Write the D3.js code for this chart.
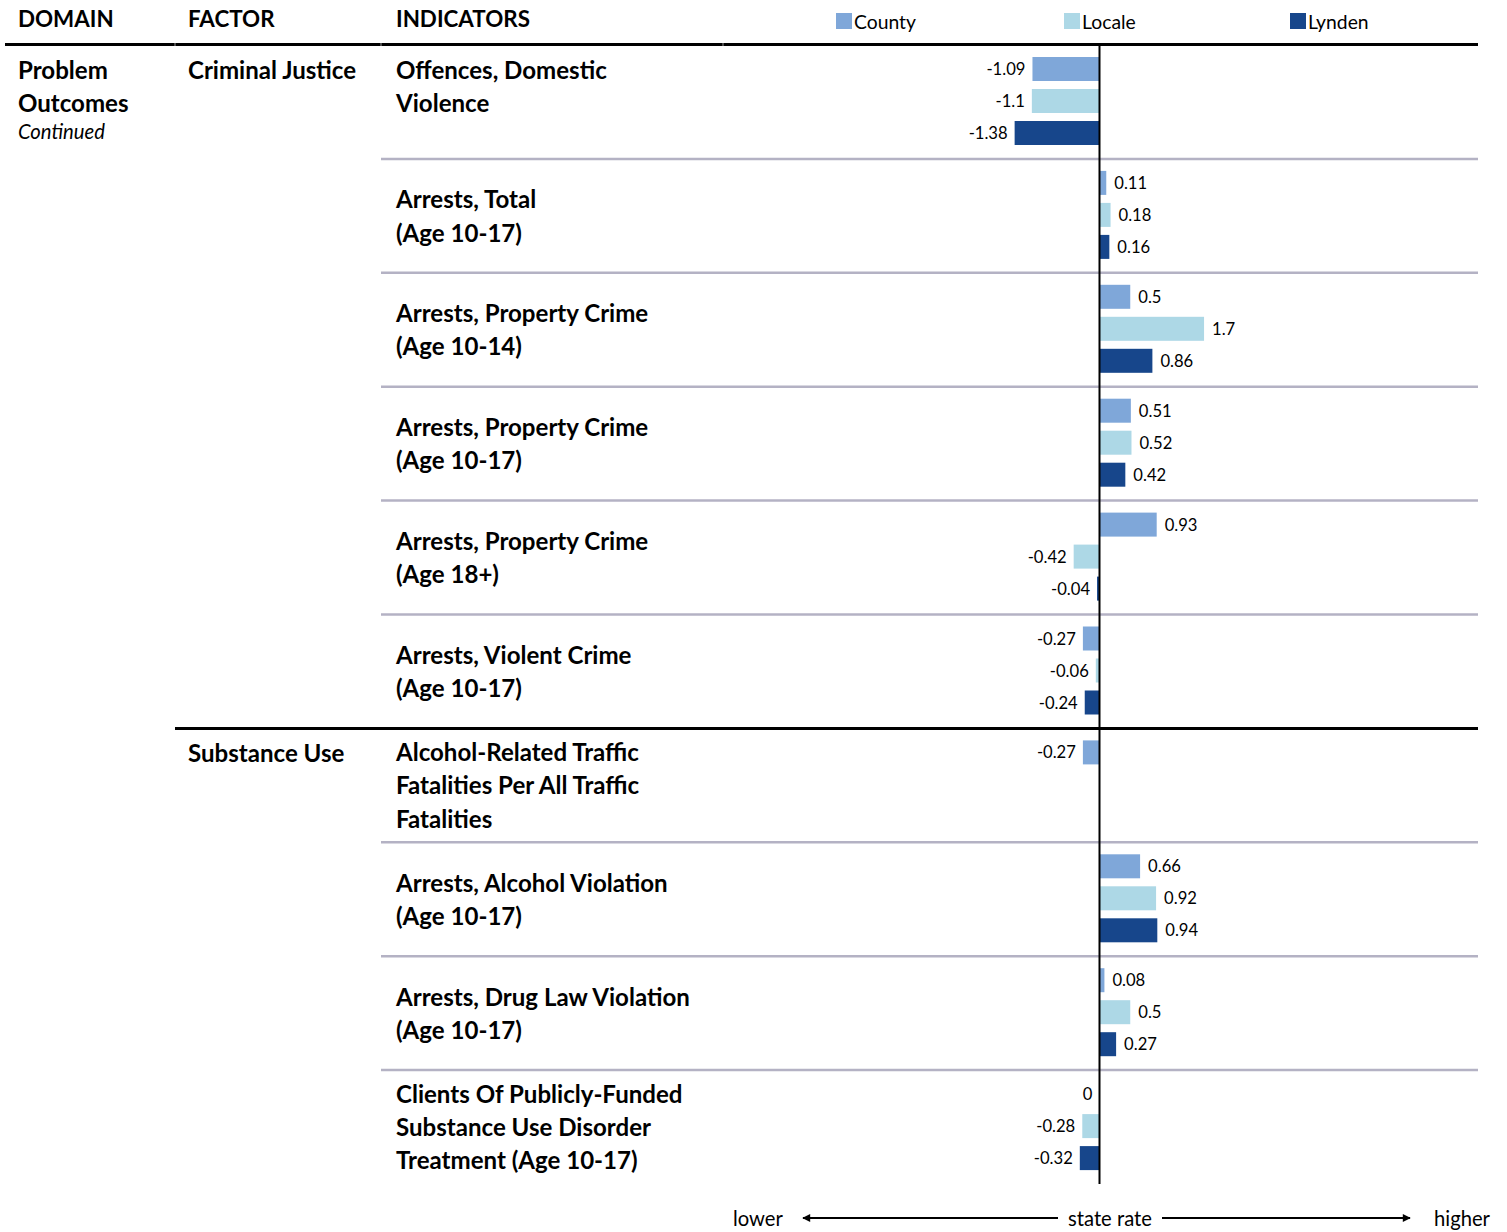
<!DOCTYPE html>
<html>
<head>
<meta charset="utf-8">
<script src="https://cdn.jsdelivr.net/npm/d3@7/dist/d3.min.js"></script>
<style>
  html, body { margin: 0; padding: 0; background: #fff; }
  svg { display: block; }
  text { font-family: Lato, "Open Sans", "DejaVu Sans", sans-serif; fill: #000; }
</style>
</head>
<body>
<svg id="chart" width="1507" height="1232"></svg>
<script>
// ---------------- DATA ----------------
const series = ["County", "Locale", "Lynden"];
const headers = ["DOMAIN", "FACTOR", "INDICATORS"];
const domainLines = ["Problem", "Outcomes"];
const domainNote = "Continued";
const factors = ["Criminal Justice", "Substance Use"];
const factorStartRow = [0, 6];
const indicators = [
  ["Offences, Domestic", "Violence"],
  ["Arrests, Total", "(Age 10-17)"],
  ["Arrests, Property Crime", "(Age 10-14)"],
  ["Arrests, Property Crime", "(Age 10-17)"],
  ["Arrests, Property Crime", "(Age 18+)"],
  ["Arrests, Violent Crime", "(Age 10-17)"],
  ["Alcohol-Related Traffic", "Fatalities Per All Traffic", "Fatalities"],
  ["Arrests, Alcohol Violation", "(Age 10-17)"],
  ["Arrests, Drug Law Violation", "(Age 10-17)"],
  ["Clients Of Publicly-Funded", "Substance Use Disorder", "Treatment (Age 10-17)"]
];
const countyValues = [-1.09, 0.11, 0.5, 0.51, 0.93, -0.27, -0.27, 0.66, 0.08, 0];
const localeValues = [-1.1, 0.18, 1.7, 0.52, -0.42, -0.06, null, 0.92, 0.5, -0.28];
const lyndenValues = [-1.38, 0.16, 0.86, 0.42, -0.04, -0.24, null, 0.94, 0.27, -0.32];
const axisLabels = ["lower", "state rate", "higher"];

// ---------------- STYLE / LAYOUT ----------------
const colors = { County: "#7fa7d9", Locale: "#add8e6", Lynden: "#17468b" };
const svg = d3.select("#chart");
const valuesBySeries = { County: countyValues, Locale: localeValues, Lynden: lyndenValues };

const tableTop = 45, rowH = 113.9, nRows = indicators.length;
const rowTop = i => tableTop + i * rowH;
const zeroX = 1099.5, pxPerUnit = 61.5;

function fitSize(str, weight, style, target) {
  const t = svg.append("text").attr("font-size", 100).attr("font-weight", weight)
    .attr("font-style", style).text(str);
  const w = t.node().getComputedTextLength();
  t.remove();
  return 100 * target / w;
}
const fsHeader = fitSize("INDICATORS", "bold", "normal", 134);
const fsBold = fitSize("Arrests, Drug Law Violation", "bold", "normal", 294);
const fsNum = fitSize("-1.09", "normal", "normal", 39);
const fsLegend = fitSize("County", "normal", "normal", 62);
const fsNote = fitSize("Continued", "normal", "italic", 87);
const fsAxis = fitSize("state rate", "normal", "normal", 84);

const x = d3.scaleLinear().domain([-1.5, 1.8]).range([zeroX - 1.5 * pxPerUnit, zeroX + 1.8 * pxPerUnit]);
const yIn = d3.scaleBand().domain(series).range([8, 104]).paddingInner(0.25).paddingOuter(0.125);

// ---------------- HEADER ----------------
const headerX = [18, 188, 396];
svg.selectAll("text.hdr").data(headers).join("text").attr("class", "hdr")
  .attr("x", (d, i) => headerX[i]).attr("y", 18).attr("dominant-baseline", "central")
  .attr("font-size", fsHeader).attr("font-weight", "bold").text(d => d);

const legendX = [836, 1064, 1290];
const lg = svg.selectAll("g.lg").data(series).join("g").attr("class", "lg")
  .attr("transform", (d, i) => `translate(${legendX[i]},0)`);
lg.append("rect").attr("x", 0).attr("y", 13).attr("width", 16).attr("height", 16).attr("fill", d => colors[d]);
lg.append("text").attr("x", 18).attr("y", 21).attr("dominant-baseline", "central")
  .attr("font-size", fsLegend).text(d => d);

svg.append("line").attr("x1", 5).attr("x2", 1478).attr("y1", 44.5).attr("y2", 44.5)
  .attr("stroke", "#000").attr("stroke-width", 3);
[175, 381, 723].forEach(cx => svg.append("line").attr("x1", cx).attr("x2", cx)
  .attr("y1", 43).attr("y2", 46).attr("stroke", "#999").attr("stroke-width", 1));

for (let i = 1; i < nRows; i++) {
  if (factorStartRow.includes(i)) {
    svg.append("line").attr("x1", 175).attr("x2", 1478).attr("y1", rowTop(i)).attr("y2", rowTop(i))
      .attr("stroke", "#000").attr("stroke-width", 3);
  } else {
    svg.append("line").attr("x1", 381).attr("x2", 1478).attr("y1", rowTop(i)).attr("y2", rowTop(i))
      .attr("stroke", "#b4b2c4").attr("stroke-width", 2.5);
  }
}

domainLines.forEach((d, i) => svg.append("text").attr("x", 18).attr("y", 69 + i * 33)
  .attr("dominant-baseline", "central").attr("font-size", fsBold).attr("font-weight", "bold").text(d));
svg.append("text").attr("x", 18).attr("y", 131).attr("dominant-baseline", "central")
  .attr("font-size", fsNote).attr("font-style", "italic").text(domainNote);

factors.forEach((f, i) => svg.append("text").attr("x", 188)
  .attr("y", rowTop(factorStartRow[i]) + 24)
  .attr("dominant-baseline", "central").attr("font-size", fsBold).attr("font-weight", "bold").text(f));

const lineGap = 33.3;
indicators.forEach((lines, r) => {
  const c = rowTop(r) + 56.5;
  const start = r === 0 ? rowTop(0) + 24 : c - (lines.length - 1) * lineGap / 2;
  lines.forEach((ln, k) => svg.append("text").attr("x", 396).attr("y", start + k * lineGap)
    .attr("dominant-baseline", "central").attr("font-size", fsBold).attr("font-weight", "bold").text(ln));
});

// ---------------- BARS ----------------
const barData = [];
indicators.forEach((_, r) => series.forEach(s => {
  const v = valuesBySeries[s][r];
  if (v !== null && v !== undefined) barData.push({ r, s, v });
}));

const g = svg.append("g");
g.selectAll("rect.bar").data(barData).join("rect").attr("class", "bar")
  .attr("x", d => Math.min(x(0), x(d.v)))
  .attr("width", d => Math.abs(x(d.v) - x(0)))
  .attr("y", d => rowTop(d.r) + yIn(d.s))
  .attr("height", yIn.bandwidth())
  .attr("fill", d => colors[d.s]);

g.selectAll("text.val").data(barData).join("text").attr("class", "val")
  .attr("x", d => d.v > 0 ? x(d.v) + 8 : x(d.v) - 7)
  .attr("y", d => rowTop(d.r) + yIn(d.s) + yIn.bandwidth() / 2)
  .attr("text-anchor", d => d.v > 0 ? "start" : "end")
  .attr("dominant-baseline", "central")
  .attr("font-size", fsNum)
  .text(d => String(d.v));

svg.append("line").attr("x1", x(0)).attr("x2", x(0)).attr("y1", 46).attr("y2", rowTop(nRows))
  .attr("stroke", "#000").attr("stroke-width", 2);

// ---------------- BOTTOM AXIS NOTE ----------------
const by = 1218;
svg.append("defs").append("marker").attr("id", "ah").attr("viewBox", "0 0 10 10")
  .attr("refX", 9).attr("refY", 5).attr("markerWidth", 5).attr("markerHeight", 4)
  .attr("markerUnits", "strokeWidth").attr("orient", "auto-start-reverse")
  .append("path").attr("d", "M0,0 L10,5 L0,10 z").attr("fill", "#000");
svg.append("line").attr("x1", 1058).attr("x2", 803).attr("y1", by).attr("y2", by)
  .attr("stroke", "#000").attr("stroke-width", 2).attr("marker-end", "url(#ah)");
svg.append("line").attr("x1", 1162).attr("x2", 1410).attr("y1", by).attr("y2", by)
  .attr("stroke", "#000").attr("stroke-width", 2).attr("marker-end", "url(#ah)");
const axX = [733, 1068, 1434];
axisLabels.forEach((t, i) => svg.append("text").attr("x", axX[i]).attr("y", by)
  .attr("dominant-baseline", "central").attr("font-size", fsAxis).attr("fill", "#222").text(t));
</script>
</body>
</html>
